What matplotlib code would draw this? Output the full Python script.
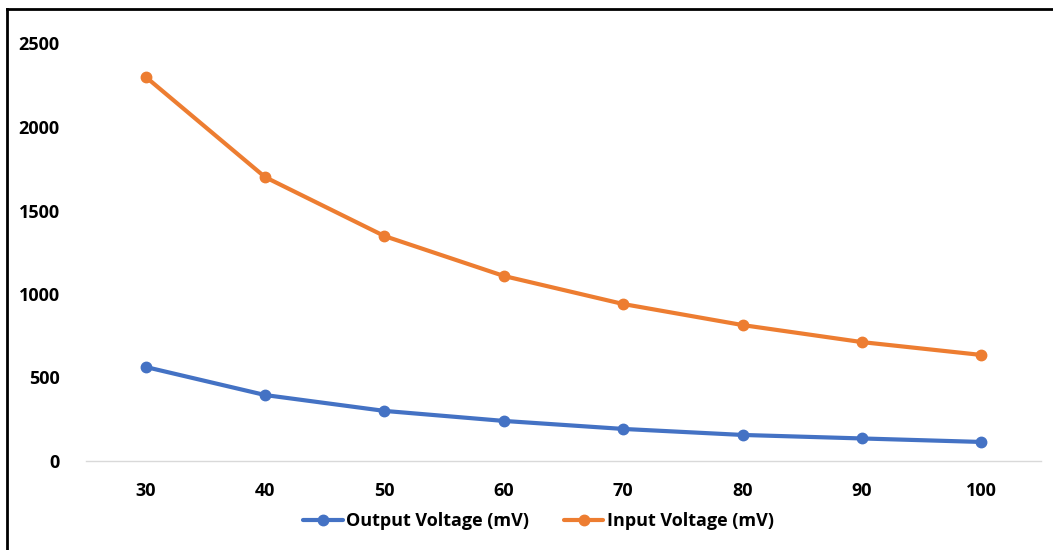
import matplotlib
matplotlib.use("Agg")
import matplotlib.pyplot as plt
from matplotlib.lines import Line2D

categories = ["30", "40", "50", "60", "70", "80", "90", "100"]
output_voltage = [563, 395, 300, 240, 192, 156, 135, 114]
input_voltage = [2300, 1700, 1347, 1108, 940, 814, 712, 635]
y_ticks = [0, 500, 1000, 1500, 2000, 2500]

plt.rcParams['font.family'] = ['Open Sans', 'DejaVu Sans']

fig = plt.figure(figsize=(10.53, 5.50), dpi=100)
ax = fig.add_axes([86/1053, 89/550, (1041-86)/1053, (461-43.5)/550])

x = list(range(len(categories)))
ax.plot(x, output_voltage, color="#4472C4", lw=3, marker="o", ms=7.5,
        solid_capstyle="round", label="Output Voltage (mV)")
ax.plot(x, input_voltage, color="#ED7D31", lw=3, marker="o", ms=7.5,
        solid_capstyle="round", label="Input Voltage (mV)")

ax.set_xlim(-0.5, len(categories) - 0.5)
ax.set_ylim(0, 2500)
ax.set_xticks(x)
ax.set_xticklabels(categories, fontsize=13, fontweight="bold")
ax.set_yticks(y_ticks)
ax.set_yticklabels([str(v) for v in y_ticks], fontsize=13, fontweight="bold")
ax.tick_params(length=0)
ax.tick_params(axis="x", pad=15)
ax.tick_params(axis="y", pad=19)
for s in ["top", "right", "left"]:
    ax.spines[s].set_visible(False)
ax.spines["bottom"].set_color("#D9D9D9")
ax.spines["bottom"].set_linewidth(1)
ax.set_zorder(1)
ax.patch.set_alpha(0)
for ln in ax.lines:
    ln.set_clip_on(False)

leg = ax.legend(loc="center", bbox_to_anchor=(0.5 + 12/1053, (550 - 521) / 550), bbox_transform=fig.transFigure,
                ncol=2, frameon=False, prop={"size": 13, "weight": "bold"},
                handlelength=2.2, handletextpad=0.2, columnspacing=1.9)

# figure border (left and top)
fig.add_artist(Line2D([7/1053, 7/1053], [0, 1 - 9/550], transform=fig.transFigure, color="black", lw=2))
fig.add_artist(Line2D([7/1053, 1], [1 - 9/550, 1 - 9/550], transform=fig.transFigure, color="black", lw=2))

fig.savefig("out.png", dpi=100, facecolor="white")
